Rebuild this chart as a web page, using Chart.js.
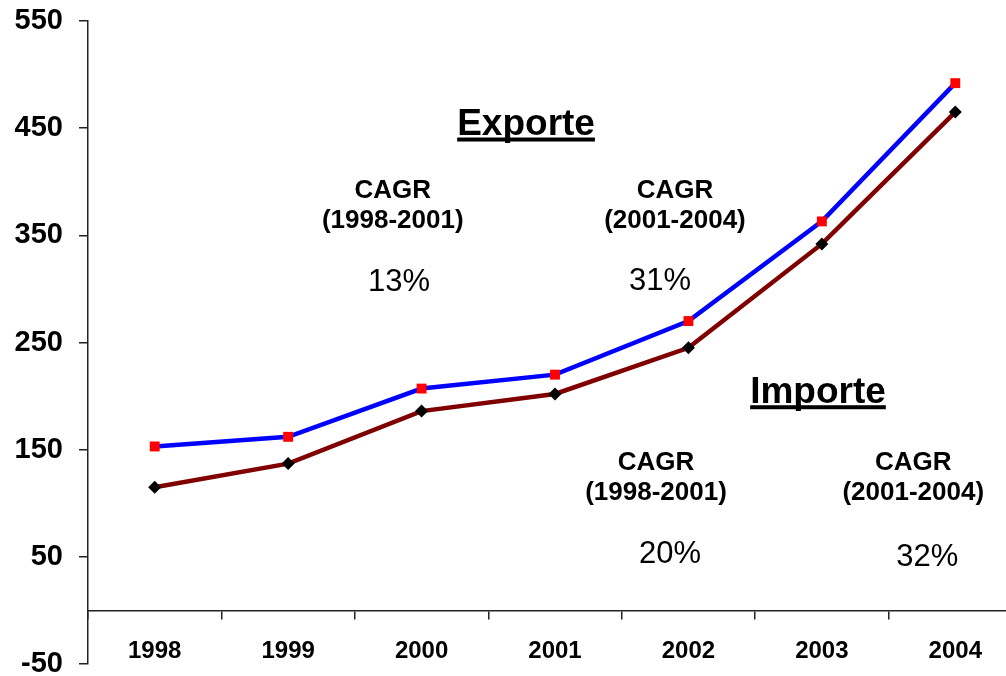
<!DOCTYPE html>
<html>
<head>
<meta charset="utf-8">
<script src="https://cdn.jsdelivr.net/npm/chart.js@4/dist/chart.umd.min.js"></script>
<style>
  html, body { margin: 0; padding: 0; background: #fff; }
  #wrap { position: relative; width: 1006px; height: 676px; overflow: hidden; }
  #inner { position: absolute; left: 0; top: 0; width: 1040px; height: 720px; }
</style>
</head>
<body>
<div id="wrap"><div id="inner"><canvas id="c"></canvas></div></div>
<script>
// ---- data ----
const categories = ['1998', '1999', '2000', '2001', '2002', '2003', '2004'];
const exporte = [153, 162, 207, 220, 270, 363, 492];
const importe = [115, 137, 186, 202, 245, 342, 465];
const yTicks = [-50, 50, 150, 250, 350, 450, 550];

// ---- text annotations (category index, value) ----
const notes = [
  { text: 'Exporte', x: 2.783, y: 443.6, font: 'bold 37px "Liberation Sans", Arial, sans-serif', underline: true },
  { text: 'CAGR', x: 1.784, y: 384.8, font: 'bold 26px "Liberation Sans", Arial, sans-serif' },
  { text: '(1998-2001)', x: 1.784, y: 356.6, font: 'bold 26px "Liberation Sans", Arial, sans-serif' },
  { text: '13%', x: 1.831, y: 298, font: '31px "Liberation Sans", Arial, sans-serif' },
  { text: 'CAGR', x: 3.899, y: 384.8, font: 'bold 26px "Liberation Sans", Arial, sans-serif' },
  { text: '(2001-2004)', x: 3.899, y: 356.6, font: 'bold 26px "Liberation Sans", Arial, sans-serif' },
  { text: '31%', x: 3.787, y: 298.9, font: '31px "Liberation Sans", Arial, sans-serif' },
  { text: 'Importe', x: 4.971, y: 193.8, font: 'bold 37px "Liberation Sans", Arial, sans-serif', underline: true },
  { text: 'CAGR', x: 3.757, y: 131, font: 'bold 26px "Liberation Sans", Arial, sans-serif' },
  { text: '(1998-2001)', x: 3.757, y: 103, font: 'bold 26px "Liberation Sans", Arial, sans-serif' },
  { text: '20%', x: 3.862, y: 44.5, font: '31px "Liberation Sans", Arial, sans-serif' },
  { text: 'CAGR', x: 5.685, y: 131, font: 'bold 26px "Liberation Sans", Arial, sans-serif' },
  { text: '(2001-2004)', x: 5.685, y: 103, font: 'bold 26px "Liberation Sans", Arial, sans-serif' },
  { text: '32%', x: 5.79, y: 41.7, font: '31px "Liberation Sans", Arial, sans-serif' }
];

const notePlugin = {
  id: 'notes',
  afterDatasetsDraw(chart) {
    const ctx = chart.ctx;
    const xs = chart.scales.x, ys = chart.scales.y;
    ctx.save();
    ctx.fillStyle = '#000';
    ctx.textAlign = 'center';
    ctx.textBaseline = 'alphabetic';
    notes.forEach(n => {
      const px = xs.getPixelForValue(n.x);
      const py = ys.getPixelForValue(n.y);
      ctx.font = n.font;
      ctx.fillText(n.text, px, py);
      if (n.underline) {
        const w = ctx.measureText(n.text).width;
        ctx.fillRect(px - w / 2, py + 2.5, w, 4);
      }
    });
    ctx.restore();
  }
};

const axisColor = '#222';

new Chart(document.getElementById('c'), {
  type: 'line',
  data: {
    labels: categories,
    datasets: [
      {
        label: 'Exporte',
        data: exporte,
        borderColor: '#0000FF',
        borderWidth: 4.5,
        pointStyle: 'rect',
        pointRadius: 7,
        pointBackgroundColor: '#FF0000',
        pointBorderColor: '#FF0000',
        pointBorderWidth: 0,
        tension: 0
      },
      {
        label: 'Importe',
        data: importe,
        borderColor: '#800000',
        borderWidth: 4.5,
        pointStyle: 'rectRot',
        pointRadius: 6.5,
        pointBackgroundColor: '#000',
        pointBorderColor: '#000',
        pointBorderWidth: 0,
        tension: 0
      }
    ]
  },
  options: {
    responsive: true,
    maintainAspectRatio: false,
    animation: false,
    layout: { padding: { left: 13, top: 21, right: 18, bottom: 56 } },
    plugins: { legend: { display: false }, tooltip: { enabled: false } },
    scales: {
      x: {
        type: 'category',
        position: { y: 0 },
        offset: true,
        afterFit(s) { s.height = 0; s.paddingLeft = 0; s.paddingRight = 0; s.paddingTop = 0; s.paddingBottom = 0; },
        grid: { display: true, drawOnChartArea: false, drawTicks: true, tickLength: 8, offset: true, color: axisColor, lineWidth: 1.5 },
        border: { display: true, color: axisColor, width: 1.5 },
        ticks: {
          color: '#000',
          padding: 19,
          maxRotation: 0,
          font: { family: '"Liberation Sans", Arial, sans-serif', size: 24, weight: 'bold' }
        }
      },
      y: {
        min: -50,
        max: 550,
        afterFit(s) { s.width = 75; s.paddingTop = 0; s.paddingBottom = 0; s.paddingLeft = 0; s.paddingRight = 0; },
        afterBuildTicks(s) { s.ticks = yTicks.map(v => ({ value: v })); },
        grid: { display: true, drawOnChartArea: false, drawTicks: true, tickLength: 9, color: axisColor, lineWidth: 1.5 },
        border: { display: true, color: axisColor, width: 1.5 },
        ticks: {
          color: '#000',
          padding: 16,
          font: { family: '"Liberation Sans", Arial, sans-serif', size: 29, weight: 'bold' }
        }
      }
    }
  },
  plugins: [notePlugin]
});
</script>
</body>
</html>
